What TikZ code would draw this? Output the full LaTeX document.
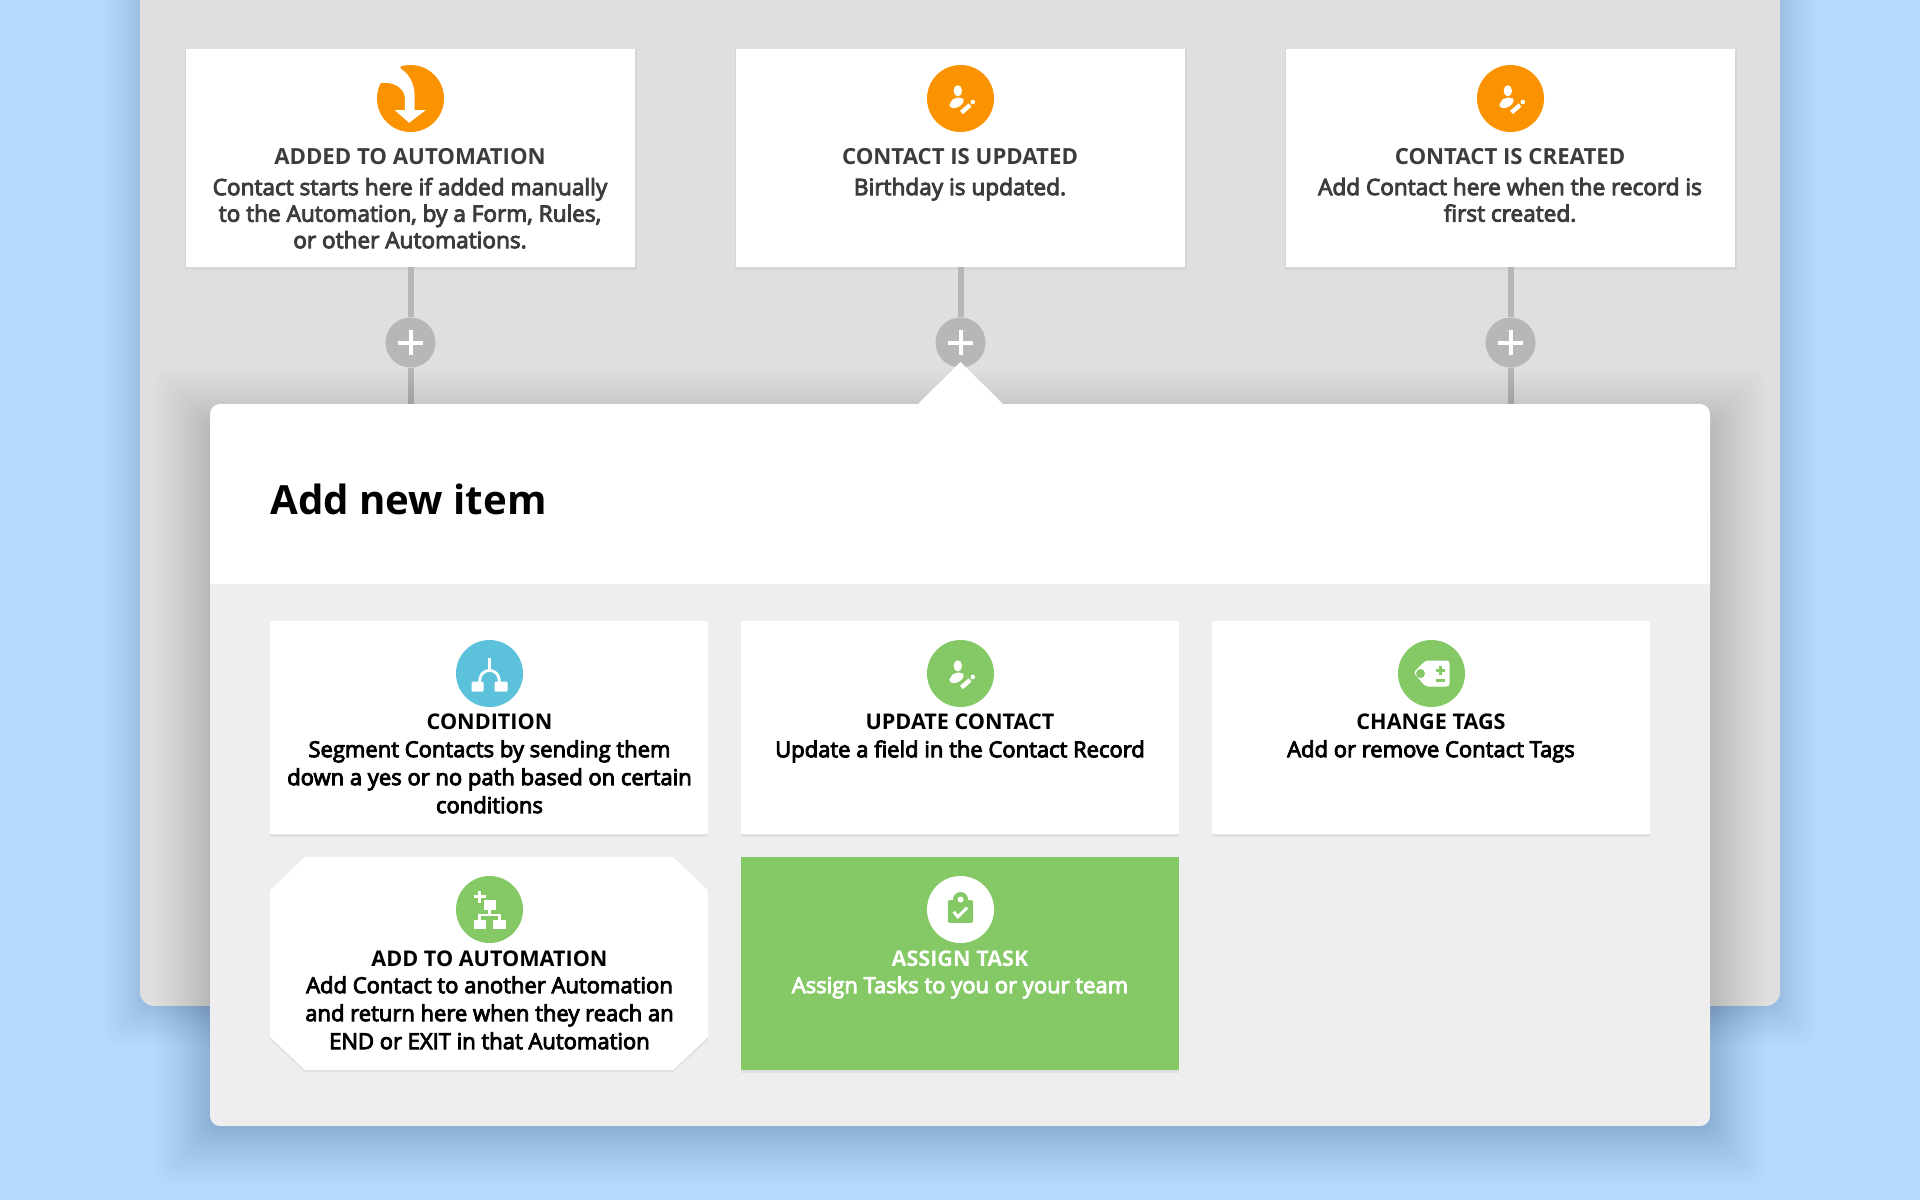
\documentclass[tikz,border=0pt]{standalone}
\usepackage{fontspec}
\setmainfont{Open Sans}
\newfontfamily\semi[FakeBold=4]{Open Sans}
\definecolor{bgblue}{HTML}{B6D9FE}
\definecolor{panelgrey}{HTML}{DFDFDF}
\definecolor{popgrey}{HTML}{EEEEEE}
\definecolor{connector}{HTML}{B7B7B7}
\definecolor{orangeic}{HTML}{FB9200}
\definecolor{greenic}{HTML}{85C966}
\definecolor{blueic}{HTML}{5CC1DA}
\definecolor{darktext}{HTML}{3C3C3C}
\newcommand{\softshadow}[7]{% x0 y0 x1 y1 steps opacity range
  \foreach \k in {1,...,#5}{
    \pgfmathsetmacro{\e}{#7*pow(1-\k/#5,1.6)-10}
    \fill[black,fill opacity=#6,rounded corners=7pt]
      ({#1-\e},{#2-\e}) rectangle ({#3+\e},{#4+\e});
  }
}
\tikzset{
  topcard/.style={fill=white,minimum width=449*0.5pt,minimum height=218*0.5pt,inner sep=0pt},
  itemcard/.style={fill=white,minimum width=438*0.5pt,minimum height=213*0.5pt,inner sep=0pt},
  link/.style={draw=connector,line width=3pt},
  plusnode/.style={circle,fill=connector,minimum size=50*0.5pt,inner sep=0pt},
  icondisc/.style={circle,minimum size=67*0.5pt,inner sep=0pt},
  toptitle/.style={anchor=base,inner sep=0pt,font=\bfseries\fontsize{11.1pt}{13pt}\selectfont,text=darktext},
  topdesc/.style={anchor=north,inner sep=0pt,align=center,font=\semi\fontsize{11.3pt}{13.25pt}\selectfont,text=darktext},
  itemtitle/.style={anchor=base,inner sep=0pt,font=\bfseries\fontsize{10.8pt}{13pt}\selectfont,text=black},
  itemdesc/.style={anchor=north,inner sep=0pt,align=center,font=\semi\fontsize{11pt}{14pt}\selectfont,text=black},
  pics/person/.style={code={
    \fill[#1] (-2.7,-7.7) ellipse [x radius=4.2,y radius=5.6];
    \fill[#1,rounded corners=2pt] (-12,9.5) -- (-10,2.5) -- (-5,-1) -- (0,-1) -- (5,1.5) -- (-2,9.5) -- cycle;
    \draw[#1,line width=2.2pt,line cap=butt] (1,14) -- (9.5,6.5);
    \fill[#1] (12.3,3.5) circle (2.3);
  }},
  pics/plussign/.style={code={
    \draw[white,line width=2pt] (-12.5,0) -- (12.5,0) (0,-12.5) -- (0,12.5);
  }}
}
\begin{document}
\begin{tikzpicture}[x=0.5pt,y=-0.5pt]
\useasboundingbox (0,0) rectangle (1920,1200);
\fill[bgblue] (0,0) rectangle (1920,1200);
% main panel
\softshadow{140}{-30}{1780}{1010}{22}{0.006}{50}
\fill[panelgrey,rounded corners=7pt] (140,-30) rectangle (1780,1006);
% top cards
\foreach \cx in {410.5,960.5,1510.5}{
  \fill[black,fill opacity=0.04] (\cx-226,49) rectangle (\cx+226,270);
}
\node[topcard] (cardA) at (410.5,158) {};
\node[topcard] (cardB) at (960.5,158) {};
\node[topcard] (cardC) at (1510.5,158) {};
\node[plusnode] (plusA) at (410.5,342.5) {};
\node[plusnode] (plusB) at (960.5,342.5) {};
\node[plusnode] (plusC) at (1510.5,342.5) {};
\coordinate (endA) at (410.5,420);
\coordinate (endC) at (1510.5,420);
\coordinate (endB) at (960.5,420);
\draw[link] (cardA.south) -- (plusA);
\draw[link] (cardB.south) -- (plusB);
\draw[link] (cardC.south) -- (plusC);
\draw[link] (plusA) -- (endA);
\draw[link] (plusB) -- (endB);
\draw[link] (plusC) -- (endC);
\pic at (plusA) {plussign};
\pic at (plusB) {plussign};
\pic at (plusC) {plussign};
% top icons
\node[icondisc,fill=orangeic] (icA) at (410.5,98.5) {};
\fill[white] (400.5,68.5) .. controls (408.8,73.5) and (414.5,83.5) .. (414.5,95.2)
  -- (414.5,110.2) -- (425.5,110.2) -- (409.2,122.8) -- (394.8,110.2) -- (404.8,110.2)
  -- (404.8,96.8) .. controls (403.8,86.5) and (390.5,80.5) .. (378.8,83.5)
  -- (370.5,58.5) -- (400.5,58.5) -- cycle;
\node[icondisc,fill=orangeic] (icB) at (960.5,98.5) {};
\pic at (icB) {person=white};
\node[icondisc,fill=orangeic] (icC) at (1510.5,98.5) {};
\pic at (icC) {person=white};
% top text
\node[toptitle] (tA) at (410,164.5) {ADDED TO AUTOMATION};
\node[toptitle] (tB) at (960,164.5) {CONTACT IS UPDATED};
\node[toptitle] (tC) at (1510,164.5) {CONTACT IS CREATED};
\node[topdesc] (dA) at (410,177.5) {Contact starts here if added manually\\to the Automation, by a Form, Rules,\\or other Automations.};
\node[topdesc] (dB) at (960,177.5) {Birthday is updated.};
\node[topdesc] (dC) at (1510,177.5) {Add Contact here when the record is\\first created.};
% popup
\softshadow{210}{425}{1710}{1130}{30}{0.006}{70}
\fill[white] (918,404) -- (960.5,362) -- (1003,404) -- cycle;
\fill[white,rounded corners=5pt] (210,404) rectangle (1710,600);
\fill[popgrey,rounded corners=5pt] (210,500) rectangle (1710,1126);
\fill[white] (210,480) rectangle (1710,584);
\node[anchor=base west,inner sep=0pt,font=\bfseries\fontsize{20.1pt}{24pt}\selectfont,text=black] (head) at (270,514) {Add new item};
% item cards
\foreach \cx/\cy in {489/727.5,960/727.5,1431/727.5,960/963.5}{
  \fill[black,fill opacity=0.05] (\cx-219,\cy-106) rectangle (\cx+219,\cy+109);
}
\fill[black,fill opacity=0.05] (305,857) -- (673,857) -- (708,890) -- (708,1040) -- (673,1072) -- (305,1072) -- (270,1040) -- (270,890) -- cycle;
\node[itemcard] (cond) at (489,727.5) {};
\node[itemcard] (upd) at (960,727.5) {};
\node[itemcard] (tags) at (1431,727.5) {};
\fill[white] (305,857) -- (673,857) -- (708,890) -- (708,1037) -- (673,1070) -- (305,1070) -- (270,1037) -- (270,890) -- cycle;
\node[itemcard,fill=greenic] (asg) at (960,963.5) {};
% item icons
\node[icondisc,fill=blueic] (icCond) at (489.5,673.5) {};
\begin{scope}[shift={(icCond)}]
  \draw[white,line width=1.4pt] (0,-16) -- (0,-2);
  \draw[white,line width=1.4pt] (-10,10) .. controls (-10,0) and (-5,-3) .. (0,-3) .. controls (5,-3) and (10,0) .. (10,10);
  \fill[white,rounded corners=0.5pt] (-18,8) rectangle (-6,18);
  \fill[white,rounded corners=0.5pt] (5,8) rectangle (18,18);
\end{scope}
\node[icondisc,fill=greenic] (icUpd) at (960.5,673.5) {};
\pic at (icUpd) {person=white};
\node[icondisc,fill=greenic] (icTag) at (1431.5,673.5) {};
\begin{scope}[shift={(icTag)}]
  \fill[white,rounded corners=1.5pt] (-18,-1) -- (-6,-13) -- (18,-13) -- (18,13) -- (-6,13) -- cycle;
  \fill[greenic] (-11,0) circle (4.5);
  \draw[greenic,line width=1.4pt] (4,-3.3) -- (13.5,-3.3) (8.75,-8) -- (8.75,1.5) (4,6.7) -- (13.5,6.7);
\end{scope}
\node[icondisc,fill=greenic] (icAdd) at (489.5,909.5) {};
\begin{scope}[shift={(icAdd)}]
  \draw[white,line width=1.5pt] (-16,-12.7) -- (-4,-12.7) (-10,-18.7) -- (-10,-6.7);
  \fill[white] (-6,-9.3) rectangle (6,0);
  \draw[white,line width=1.1pt] (0,0) -- (0,5.7) (-10,12) -- (-10,5.7) -- (10,5.7) -- (10,12);
  \fill[white] (-16,10.7) rectangle (-3.3,19.7);
  \fill[white] (3.3,10.7) rectangle (16.7,19.7);
\end{scope}
\node[icondisc,fill=white] (icAsg) at (960.5,909.5) {};
\begin{scope}[shift={(icAsg)}]
  \fill[greenic,rounded corners=1pt] (-12.7,-9.3) rectangle (12.7,13.3);
  \fill[greenic] (0,-10) circle (7.5);
  \fill[white] (0,-10) circle (3);
  \draw[white,line width=1.5pt] (-6.7,2.3) -- (-2.7,7.3) -- (6.7,-2);
\end{scope}
% item text
\node[itemtitle] (t1) at (489.5,729.5) {CONDITION};
\node[itemdesc] (d1) at (489.5,740) {Segment Contacts by sending them\\down a yes or no path based on certain\\conditions};
\node[itemtitle] (t2) at (960,729.5) {UPDATE CONTACT};
\node[itemdesc] (d2) at (960,740) {Update a field in the Contact Record};
\node[itemtitle] (t3) at (1431,729.5) {CHANGE TAGS};
\node[itemdesc] (d3) at (1431,740) {Add or remove Contact Tags};
\node[itemtitle] (t4) at (489.5,966) {ADD TO AUTOMATION};
\node[itemdesc] (d4) at (489.5,976) {Add Contact to another Automation\\and return here when they reach an\\END or EXIT in that Automation};
\node[itemtitle,text=white] (t5) at (960,966) {ASSIGN TASK};
\node[itemdesc,text=white] (d5) at (960,976) {Assign Tasks to you or your team};
\end{tikzpicture}
\end{document}
